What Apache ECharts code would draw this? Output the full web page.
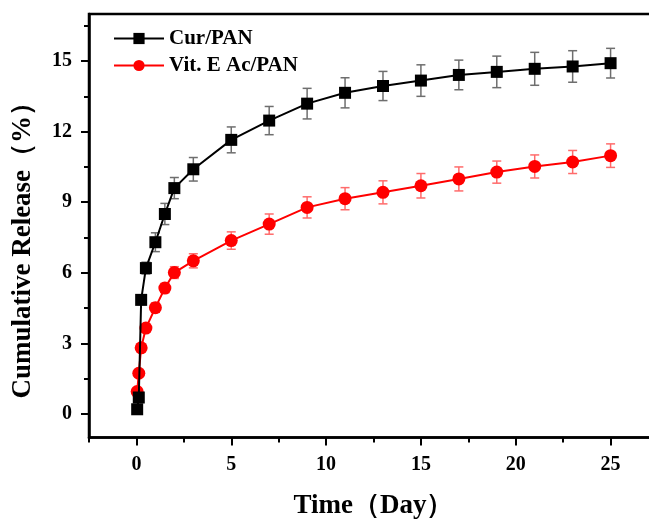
<!DOCTYPE html>
<html>
<head>
<meta charset="utf-8">
<script src="https://cdn.jsdelivr.net/npm/echarts@6/dist/echarts.min.js"></script>
<style>
html,body{margin:0;padding:0;background:#fff;}
#main{width:649px;height:519px;}
</style>
</head>
<body>
<div id="main"></div>
<script>
// sampling times (day)
var days = [0.04, 0.125, 0.25, 0.5, 1, 1.5, 2, 3, 5, 7, 9, 11, 13, 15, 17, 19, 21, 23, 25];

// Cur/PAN
var curVals = [0.2, 0.7, 4.85, 6.2, 7.3, 8.5, 9.6, 10.4, 11.65, 12.47, 13.19, 13.65, 13.94, 14.17, 14.41, 14.54, 14.67, 14.77, 14.91];
var curErr  = [0.1, 0.15, 0.2, 0.25, 0.4, 0.45, 0.45, 0.5, 0.55, 0.6, 0.65, 0.64, 0.62, 0.67, 0.63, 0.67, 0.7, 0.67, 0.63];

// Vit. E Ac/PAN
var vitVals = [0.95, 1.73, 2.81, 3.65, 4.52, 5.35, 6.01, 6.51, 7.37, 8.07, 8.78, 9.15, 9.42, 9.7, 9.99, 10.28, 10.52, 10.71, 10.98];
var vitErr  = [0.1, 0.1, 0.15, 0.15, 0.2, 0.2, 0.25, 0.3, 0.37, 0.43, 0.45, 0.47, 0.49, 0.52, 0.51, 0.47, 0.49, 0.49, 0.5];

var xMajor = [0, 5, 10, 15, 20, 25];
var xMinor = [-2.5, 2.5, 7.5, 12.5, 17.5, 22.5, 27.5];
var yMajor = [0, 3, 6, 9, 12, 15];
var yMinor = [1.5, 4.5, 7.5, 10.5, 13.5, 16.5];

var font = '"Liberation Serif", "Times New Roman", serif';

function pairs(xs, ys){
  return xs.map(function(x, i){ return [x, ys[i]]; });
}
function errData(xs, ys, es){
  return xs.map(function(x, i){ return [x, ys[i] - es[i], ys[i] + es[i]]; });
}
function errRender(color){
  return function(params, api){
    var x = api.value(0);
    var lo = api.coord([x, api.value(1)]);
    var hi = api.coord([x, api.value(2)]);
    var w = 4.5;
    var st = {stroke: color, lineWidth: 1.5};
    return {
      type: 'group',
      children: [
        {type: 'line', shape: {x1: lo[0], y1: lo[1], x2: hi[0], y2: hi[1]}, style: st},
        {type: 'line', shape: {x1: lo[0]-w, y1: lo[1], x2: lo[0]+w, y2: lo[1]}, style: st},
        {type: 'line', shape: {x1: hi[0]-w, y1: hi[1], x2: hi[0]+w, y2: hi[1]}, style: st}
      ]
    };
  };
}

var myChart = echarts.init(document.getElementById('main'));
myChart.setOption({
  animation: false,
  backgroundColor: '#fff',
  textStyle: {fontFamily: font},
  grid: {
    left: 89, right: -9, top: 14, bottom: 81.5,
    outerBoundsMode: 'none',
    show: true, borderColor: '#000', borderWidth: 2.5
  },
  legend: {
    orient: 'vertical',
    left: 108, top: 23,
    itemWidth: 50, itemHeight: 14, itemGap: 6,
    data: ['Cur/PAN', 'Vit. E Ac/PAN'],
    textStyle: {fontFamily: font, fontWeight: 'bold', fontSize: 21, color: '#000'}
  },
  xAxis: [{
    type: 'value', min: -2.5, max: 27.5,
    name: 'Time（Day）', nameLocation: 'middle', nameGap: 55,
    nameTextStyle: {fontFamily: font, fontWeight: 'bold', fontSize: 27, color: '#000'},
    axisLine: {onZero: false, lineStyle: {color: '#000', width: 2.5}},
    axisTick: {customValues: xMajor, length: 8, lineStyle: {color: '#000', width: 2}},
    axisLabel: {customValues: xMajor, margin: 17, fontFamily: font, fontWeight: 'bold', fontSize: 20, color: '#000'},
    splitLine: {show: false}
  }, {
    type: 'value', min: -2.5, max: 27.5, position: 'bottom',
    axisLine: {show: false, onZero: false},
    axisTick: {customValues: xMinor, length: 5, lineStyle: {color: '#000', width: 2}},
    axisLabel: {show: false},
    splitLine: {show: false}
  }],
  yAxis: [{
    type: 'value', min: -1, max: 17,
    name: 'Cumulative Release（%）', nameLocation: 'middle', nameGap: 52,
    nameTextStyle: {fontFamily: font, fontWeight: 'bold', fontSize: 27, color: '#000', padding: [0, 36, 0, 0]},
    axisLine: {onZero: false, lineStyle: {color: '#000', width: 2.5}},
    axisTick: {customValues: yMajor, length: 8, lineStyle: {color: '#000', width: 2}},
    axisLabel: {customValues: yMajor, margin: 17, fontFamily: font, fontWeight: 'bold', fontSize: 20, color: '#000'},
    splitLine: {show: false}
  }, {
    type: 'value', min: -1, max: 17, position: 'left',
    axisLine: {show: false, onZero: false},
    axisTick: {customValues: yMinor, length: 5, lineStyle: {color: '#000', width: 2}},
    axisLabel: {show: false},
    splitLine: {show: false}
  }],
  series: [
    {
      type: 'custom', name: 'curErr',
      renderItem: errRender('#6e6e6e'),
      data: errData(days, curVals, curErr), z: 2
    },
    {
      type: 'custom', name: 'vitErr',
      renderItem: errRender('#ff6b6b'),
      data: errData(days, vitVals, vitErr), z: 2
    },
    {
      name: 'Cur/PAN', type: 'line',
      data: pairs(days, curVals),
      symbol: 'rect', symbolSize: 12,
      itemStyle: {color: '#000'},
      lineStyle: {color: '#000', width: 2},
      z: 4
    },
    {
      name: 'Vit. E Ac/PAN', type: 'line',
      data: pairs(days, vitVals),
      symbol: 'circle', symbolSize: 13,
      itemStyle: {color: '#ff0000'},
      lineStyle: {color: '#ff0000', width: 2},
      z: 3
    }
  ]
});
</script>
</body>
</html>
